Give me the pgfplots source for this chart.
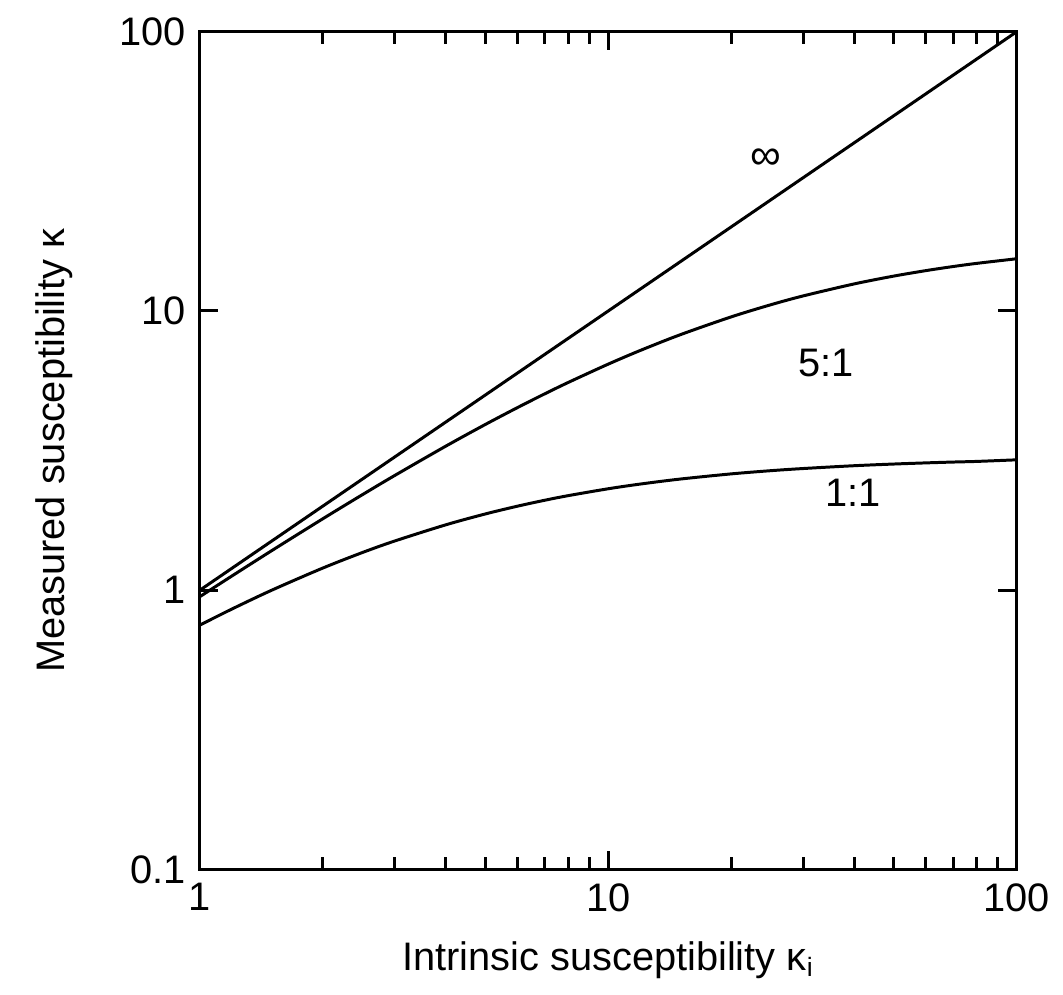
\documentclass[border=0pt]{standalone}
\usepackage{pgfplots}
\pgfplotsset{compat=1.18}
\usepackage{fontspec}
\setmainfont{Liberation Sans}
\begin{document}
\fontsize{12}{14}\selectfont
\begin{tikzpicture}
\begin{axis}[
  scale only axis,
  width=246.3pt, height=252.6pt,
  xmode=log, ymode=log,
  xmin=1, xmax=100, ymin=0.1, ymax=100,
  xtick={1,10,100}, xticklabels={1,10,100},
  ytick={0.1,1,10,100}, yticklabels={0.1,1,10,100},
  minor xtick={2,3,4,5,6,7,8,9,20,30,40,50,60,70,80,90},
  yminorticks=false,
  tick align=inside,
  major tick length=5.5pt, minor tick length=3.6pt,
  every tick/.style={black, line width=0.9pt},
  axis line style={black, line width=0.9pt},
  tick label style={font=\fontsize{12}{14}\selectfont},
  /pgf/number format/assume math mode=true,
  xlabel={Intrinsic susceptibility κ\textsubscript{i}},
  ylabel={Measured susceptibility κ},
  label style={font=\fontsize{12}{14}\selectfont},
  xlabel style={at={(axis description cs:0.5,-0.108)}, anchor=center},
  ylabel style={at={(axis description cs:-0.178,0.5)}, anchor=center},
  clip=false,
]
\addplot[black, line width=0.9pt] coordinates {(1,1) (100,100)};
\addplot[black, line width=0.9pt, smooth] coordinates {
(1,0.948) (1.2,1.126) (1.5,1.386) (2,1.802) (2.5,2.198) (3,2.575) (4,3.279) (5,3.922)
(6,4.511) (7,5.054) (8,5.556) (10,6.452) (12,7.229) (15,8.219) (20,9.524) (25,10.526)
(30,11.321) (40,12.5) (50,13.333) (60,13.953) (70,14.433) (80,14.815) (100,15.385)};
\addplot[black, line width=0.9pt, smooth] coordinates {
(1,0.75) (1.2,0.857) (1.5,1.0) (2,1.2) (2.5,1.364) (3,1.5) (4,1.714) (5,1.875)
(6,2.0) (7,2.1) (8,2.182) (10,2.308) (12,2.4) (15,2.5) (20,2.609) (25,2.679)
(30,2.727) (40,2.791) (50,2.830) (60,2.857) (70,2.877) (80,2.892) (100,2.93)};
\node[font=\fontsize{13}{15}\selectfont] at (axis cs:24.3,35) {∞};
\node at (axis cs:34.1,6.5) {5:1};
\node at (axis cs:39.8,2.24) {1:1};
\end{axis}
\path[use as bounding box] ([shift={(-60.3pt,-37.8pt)}]current axis.south west) rectangle ([shift={(12.3pt,9.6pt)}]current axis.north east);
\end{tikzpicture}
\end{document}
